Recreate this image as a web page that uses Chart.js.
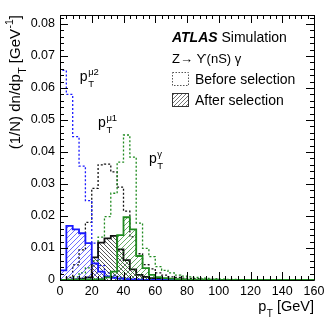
<!DOCTYPE html>
<html>
<head>
<meta charset="utf-8">
<script src="https://cdn.jsdelivr.net/npm/chart.js@4.4.1/dist/chart.umd.min.js"></script>
<style>
  html, body { margin: 0; padding: 0; background: #fff; }
  #wrap { width: 332px; height: 319px; }
</style>
</head>
<body>
<div id="wrap"><canvas id="ptChart" width="332" height="319"></canvas></div>
<script>
// 4 GeV bins from 0 to 160 GeV
const binEdges = [0, 4, 8, 12, 16, 20, 24, 28, 32, 36, 40, 44, 48, 52, 56, 60, 64, 68, 72, 76, 80,
  84, 88, 92, 96, 100, 104, 108, 112, 116, 120, 124, 128, 132, 136, 140, 144, 148, 152, 156, 160];

const xTicks = [0, 20, 40, 60, 80, 100, 120, 140, 160];
const yTicks = [0, 0.01, 0.02, 0.03, 0.04, 0.05, 0.06, 0.07, 0.08];

// subleading muon pT
const mu2Before = [0.0655, 0.058, 0.0448, 0.0356, 0.0248, 0.0115, 0.0045, 0.0022, 0.0014, 0.0009,
  0.0006, 0.0004, 0.0003, 0.0002, 0.0001, 0, 0, 0, 0, 0, 0, 0, 0, 0, 0, 0, 0, 0, 0, 0, 0, 0, 0, 0, 0, 0, 0, 0, 0, 0];
const mu2After = [0.003, 0.0169, 0.0158, 0.0146, 0.0115, 0.0052, 0.0026, 0.0011, 0.0007, 0.0004,
  0.0003, 0.0002, 0.0001, 0, 0, 0, 0, 0, 0, 0, 0, 0, 0, 0, 0, 0, 0, 0, 0, 0, 0, 0, 0, 0, 0, 0, 0, 0, 0, 0];

// leading muon pT
const mu1Before = [0, 0.0008, 0.0047, 0.0094, 0.018, 0.0286, 0.036, 0.0362, 0.0338, 0.029,
  0.0215, 0.0135, 0.0082, 0.0048, 0.0035, 0.0022, 0.0015, 0.001, 0.0008, 0.0006,
  0.0005, 0.0004, 0.0003, 0.0002, 0.0002, 0.0001, 0.0001, 0.0001, 0, 0, 0, 0, 0, 0, 0, 0, 0, 0, 0, 0];
const mu1After = [0, 0.0001, 0.0002, 0.0004, 0.0008, 0.0071, 0.0117, 0.013, 0.0138, 0.0096,
  0.0062, 0.0033, 0.0016, 0.001, 0.0006, 0.0004, 0.0003, 0.0002, 0.0001, 0.0001,
  0, 0, 0, 0, 0, 0, 0, 0, 0, 0, 0, 0, 0, 0, 0, 0, 0, 0, 0, 0];

// photon pT
const gammaBefore = [0, 0.0003, 0.001, 0.0022, 0.0038, 0.006, 0.0134, 0.0198, 0.0271, 0.0368,
  0.0453, 0.0384, 0.0178, 0.0099, 0.0073, 0.0042, 0.003, 0.0022, 0.0015, 0.0012,
  0.001, 0.0008, 0.0006, 0.0005, 0.0004, 0.0003, 0.0002, 0.0002, 0.0001, 0.0001, 0.0001, 0, 0, 0, 0, 0, 0, 0, 0, 0];
const gammaAfter = [0, 0, 0.0001, 0.0001, 0.0002, 0.0002, 0.0003, 0.0008, 0.0026, 0.014,
  0.0196, 0.0158, 0.0075, 0.0037, 0.0016, 0.0009, 0.0006, 0.0004, 0.0003, 0.0002,
  0.0001, 0.0001, 0.0001, 0, 0, 0, 0, 0, 0, 0, 0, 0, 0, 0, 0, 0, 0, 0, 0, 0];

const BLUE = '#1a1aff';
const BLACK = '#111111';
const GREEN = '#1f8a1f';
const FONT = "'Liberation Sans', Arial, Helvetica, sans-serif";

const canvas = document.getElementById('ptChart');
const mainCtx = canvas.getContext('2d');

// ROOT-like hatch fill
function hatch(color, dir, size) {
  const c = document.createElement('canvas');
  c.width = size; c.height = size;
  const g = c.getContext('2d');
  g.strokeStyle = color;
  g.lineWidth = 0.9;
  g.beginPath();
  if (dir === '/') {
    g.moveTo(-1, size + 1); g.lineTo(size + 1, -1);
    g.moveTo(-1, 1); g.lineTo(1, -1);
    g.moveTo(size - 1, size + 1); g.lineTo(size + 1, size - 1);
  } else {
    g.moveTo(-1, -1); g.lineTo(size + 1, size + 1);
    g.moveTo(size - 1, -1); g.lineTo(size + 1, 1);
    g.moveTo(-1, size - 1); g.lineTo(1, size + 1);
  }
  g.stroke();
  return mainCtx.createPattern(c, 'repeat');
}

// step outline: value i holds from edge i to edge i+1
function histPoints(values) {
  const n = values.length;
  const pts = [{x: binEdges[0], y: 0}];
  values.forEach((v, i) => pts.push({x: binEdges[i], y: v}));
  pts.push({x: binEdges[n], y: values[n - 1]});
  pts.push({x: binEdges[n], y: 0});
  return pts;
}

function histSet(values, color, dotted, fillPattern, order) {
  return {
    data: histPoints(values),
    borderColor: color,
    borderWidth: dotted ? 1.3 : 1.8,
    borderDash: dotted ? [2, 2] : [],
    backgroundColor: fillPattern || 'transparent',
    fill: fillPattern ? 'origin' : false,
    stepped: true,
    pointRadius: 0,
    tension: 0,
    order: order
  };
}

// text with subscript and superscript
function scriptText(ctx, x, y, base, sub, sup, size, small) {
  ctx.font = size + 'px ' + FONT;
  ctx.fillText(base, x, y);
  let w = ctx.measureText(base).width;
  ctx.font = small + 'px ' + FONT;
  let sw = 0;
  if (sub) { ctx.fillText(sub, x + w + 0.5, y + size * 0.42); sw = ctx.measureText(sub).width; }
  if (sup) { ctx.fillText(sup, x + w + 0.5, y - size * 0.45); sw = Math.max(sw, ctx.measureText(sup).width); }
  return w + sw + 0.5;
}

const frameTicks = {
  id: 'frameTicks',
  afterDraw(chart) {
    const {ctx, chartArea: a, scales: {x, y}} = chart;
    ctx.save();
    ctx.strokeStyle = '#000';
    ctx.lineWidth = 1;
    ctx.beginPath();
    ctx.rect(Math.round(a.left) + 0.5, Math.round(a.top) + 0.5,
      Math.round(a.right - a.left), Math.round(a.bottom - a.top));
    // x ticks, minor every 4 GeV
    for (let v = 0; v <= 160; v += 4) {
      const px = Math.round(x.getPixelForValue(v)) + 0.5;
      const len = v % 20 === 0 ? 8 : 4;
      ctx.moveTo(px, a.bottom); ctx.lineTo(px, a.bottom - len);
      ctx.moveTo(px, a.top); ctx.lineTo(px, a.top + len);
    }
    // y ticks, minor every 0.002
    for (let k = 0; k <= 41; k++) {
      const v = k * 0.002;
      if (v > y.max) break;
      const py = Math.round(y.getPixelForValue(v)) + 0.5;
      const len = k % 5 === 0 ? 8 : 4;
      ctx.moveTo(a.left, py); ctx.lineTo(a.left + len, py);
      ctx.moveTo(a.right, py); ctx.lineTo(a.right - len, py);
    }
    ctx.stroke();
    ctx.restore();
  }
};

const labels = {
  id: 'labels',
  afterDraw(chart) {
    const {ctx, chartArea: a, scales: {x, y}} = chart;
    ctx.save();
    ctx.fillStyle = '#000';
    ctx.textBaseline = 'alphabetic';
    ctx.textAlign = 'left';

    // curve labels
    scriptText(ctx, x.getPixelForValue(12.5), y.getPixelForValue(0.0622), 'p', 'T', '\u03bc2', 14, 9.5);
    scriptText(ctx, x.getPixelForValue(24), y.getPixelForValue(0.0478), 'p', 'T', '\u03bc1', 14, 9.5);
    scriptText(ctx, x.getPixelForValue(56), y.getPixelForValue(0.0366), 'p', 'T', '\u03b3', 14, 9.5);

    // x title, right aligned to axis end
    ctx.font = '14.5px ' + FONT;
    const tail = ' [GeV]';
    const tw = ctx.measureText(tail).width;
    ctx.font = '10px ' + FONT;
    const tW = ctx.measureText('T').width;
    ctx.font = '14.5px ' + FONT;
    const pW = ctx.measureText('p').width;
    const x0 = a.right - tw - tW - pW - 0.5;
    scriptText(ctx, x0, 311, 'p', 'T', null, 14.5, 10);
    ctx.font = '14.5px ' + FONT;
    ctx.fillText(tail, x0 + pW + tW + 0.5, 311);

    // y title, rotated, ending at top of frame
    ctx.save();
    ctx.translate(20, a.top);
    ctx.rotate(-Math.PI / 2);
    const big = 15, small = 10.5;
    ctx.font = big + 'px ' + FONT;
    const s1 = '(1/N) dn/dp', s2 = ' [GeV', s3 = ']';
    const w1 = ctx.measureText(s1).width, w2 = ctx.measureText(s2).width, w3 = ctx.measureText(s3).width;
    ctx.font = small + 'px ' + FONT;
    const wT = ctx.measureText('T').width, wm = ctx.measureText('-1').width;
    let cx = -(w1 + wT + w2 + wm + w3 + 1);
    ctx.font = big + 'px ' + FONT;
    ctx.fillText(s1, cx, 0); cx += w1;
    ctx.font = small + 'px ' + FONT;
    ctx.fillText('T', cx + 0.5, big * 0.42); cx += wT + 0.5;
    ctx.font = big + 'px ' + FONT;
    ctx.fillText(s2, cx, 0); cx += w2;
    ctx.font = small + 'px ' + FONT;
    ctx.fillText('-1', cx + 0.5, -big * 0.45); cx += wm + 0.5;
    ctx.font = big + 'px ' + FONT;
    ctx.fillText(s3, cx, 0);
    ctx.restore();

    // ATLAS label and legend
    const lx = 172;
    ctx.font = 'italic bold 14px ' + FONT;
    ctx.fillText('ATLAS', lx, 42);
    const aw = ctx.measureText('ATLAS ').width;
    ctx.font = '14px ' + FONT;
    ctx.fillText('Simulation', lx + aw, 42);
    ctx.font = '13px ' + FONT;
    ctx.fillText('Z\u2192 \u03d2(nS) \u03b3', lx, 63);

    ctx.strokeStyle = '#555';
    ctx.lineWidth = 1;
    ctx.setLineDash([1.5, 1.5]);
    ctx.strokeRect(lx + 0.5, 72.5, 16, 13);
    ctx.setLineDash([]);
    ctx.fillStyle = hatch('#666', '/', 4);
    ctx.fillRect(lx + 0.5, 93.5, 16, 13);
    ctx.strokeStyle = '#333';
    ctx.strokeRect(lx + 0.5, 93.5, 16, 13);
    ctx.fillStyle = '#000';
    ctx.font = '14px ' + FONT;
    ctx.fillText('Before selection', lx + 23, 84);
    ctx.fillText('After selection', lx + 23, 105);
    ctx.restore();
  }
};

Chart.defaults.font.family = FONT;
Chart.defaults.color = '#000';

new Chart(canvas, {
  type: 'line',
  data: {
    datasets: [
      histSet(mu1Before, BLACK, true, null, 6),
      histSet(mu2Before, BLUE, true, null, 5),
      histSet(gammaBefore, GREEN, true, null, 4),
      histSet(mu1After, BLACK, false, hatch('rgba(20,20,20,0.8)', '\\', 4), 3),
      histSet(mu2After, BLUE, false, hatch('rgba(40,40,255,0.75)', '/', 5), 2),
      histSet(gammaAfter, GREEN, false, hatch('rgba(30,130,30,0.75)', '/', 5), 1)
    ]
  },
  options: {
    responsive: false,
    animation: false,
    layout: { padding: { left: 0, right: 18, top: 15, bottom: 0 } },
    plugins: {
      legend: { display: false },
      tooltip: { enabled: false },
      title: { display: false }
    },
    scales: {
      x: {
        type: 'linear',
        min: 0,
        max: 160,
        grid: { display: false, drawTicks: false },
        border: { display: false },
        afterFit: s => { s.height = 39; },
        afterBuildTicks: s => { s.ticks = xTicks.map(v => ({value: v})); },
        ticks: {
          autoSkip: false,
          maxRotation: 0,
          padding: 4,
          font: { size: 12.5 },
          callback: v => String(v)
        }
      },
      y: {
        type: 'linear',
        min: 0,
        max: 0.0828,
        grid: { display: false, drawTicks: false },
        border: { display: false },
        afterFit: s => { s.width = 60; },
        afterBuildTicks: s => { s.ticks = yTicks.map(v => ({value: v})); },
        ticks: {
          autoSkip: false,
          padding: 5,
          font: { size: 12.5 },
          callback: v => v === 0 ? '0' : v.toFixed(2)
        }
      }
    }
  },
  plugins: [frameTicks, labels]
});
</script>
</body>
</html>
